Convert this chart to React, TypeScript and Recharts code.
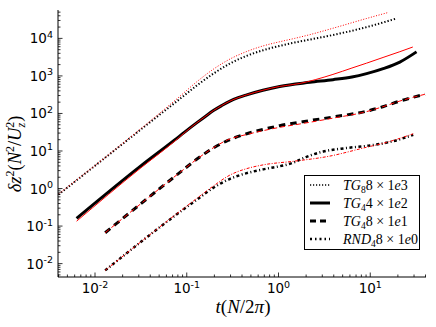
import React from "react";
import { LineChart, Line, XAxis, YAxis, Legend, Label } from "recharts";

const X_DOMAIN: [number, number] = [0.00395, 40.5];
const Y_DOMAIN: [number, number] = [0.0044, 57000];

// (t, value) pairs
const tg8Black: [number, number][] = [
  [0.004, 0.69], [0.0195, 14.7], [0.04, 59], [0.0843, 245], [0.128, 550], [0.195, 1150],
  [0.296, 2140], [0.45, 3430], [0.681, 4840], [1.03, 6310], [1.5, 7760], [2.2, 9330],
  [3.92, 12300], [9.12, 19950], [19.3, 33900],
];
const tg8Red: [number, number][] = [
  [0.004, 0.71], [0.0195, 15.1], [0.04, 63], [0.0843, 288], [0.128, 692], [0.195, 1510],
  [0.296, 2820], [0.45, 4470], [0.681, 6310], [1.03, 8130], [1.5, 10000], [2.2, 12590],
  [3.92, 18620], [9.12, 33900], [15.7, 49000],
];
const tg4Black: [number, number][] = [
  [0.0063, 0.16], [0.0316, 4.0], [0.0745, 20], [0.0955, 32.4], [0.128, 56], [0.158, 82],
  [0.195, 119], [0.24, 162], [0.296, 214], [0.363, 263], [0.45, 313], [0.676, 415],
  [1.03, 525], [2.2, 676], [3.92, 794], [6.31, 933], [9.12, 1150], [14.1, 1585],
  [21, 2340], [31.9, 4370],
];
const tg4Red: [number, number][] = [
  [0.0063, 0.135], [0.0316, 3.55], [0.0745, 18.6], [0.0955, 31.3], [0.128, 56], [0.158, 82],
  [0.195, 119], [0.24, 162], [0.296, 214], [0.363, 263], [0.45, 313], [0.676, 415],
  [1.03, 525], [1.26, 562], [1.71, 631], [2.51, 794], [3.92, 1096], [6.31, 1622],
  [9.12, 2188], [14.1, 3162], [21, 4416], [29.1, 5890],
];
const tg48Black: [number, number][] = [
  [0.0129, 0.0665], [0.0916, 3.16], [0.128, 6.0], [0.195, 12.0], [0.281, 19.1], [0.45, 28.8],
  [0.676, 37.6], [1.03, 47.3], [2.2, 64.6], [3.92, 80.4], [9.12, 115], [13.7, 151],
  [21, 214], [39.4, 324],
];
const tg48Red: [number, number][] = [
  [0.0129, 0.0665], [0.0916, 3.16], [0.128, 6.0], [0.195, 12.2], [0.281, 20], [0.45, 27.5],
  [0.676, 34.7], [1.03, 42.7], [1.71, 52.5], [3.92, 75], [9.12, 112], [13.7, 151],
  [21, 214], [39.4, 324],
];
const rndBlack: [number, number][] = [
  [0.0129, 0.0066], [0.0916, 0.276], [0.128, 0.5], [0.195, 1.05], [0.296, 1.82], [0.45, 2.57],
  [0.681, 3.24], [1.445, 4.9], [2.02, 7.0], [3.07, 9.66], [5.52, 12.0], [9.9, 14.0],
  [16.4, 17.4], [29.4, 26.9],
];
const rndRed: [number, number][] = [
  [0.0129, 0.0066], [0.0916, 0.29], [0.128, 0.54], [0.195, 1.17], [0.296, 2.29], [0.45, 3.39],
  [0.681, 4.27], [1.5, 5.37], [3.55, 7.24], [8.3, 11.9], [16.4, 18.0], [29.4, 28.8],
];

const legendNames = ["TG", "TG", "TG", "RND"];
const legendSubs = ["8", "4", "4", "4"];
const legendFactors = ["8", "4", "8", "8"];
const legendExps = ["3", "2", "1", "0"];
const legendDash = ["1.2 1.8", undefined, "6 4", "2 3 1.5 3"];
const legendWidth = [1.3, 3, 3, 2.5];

const rows = (pairs: [number, number][]) => pairs.map(([t, v]) => ({ t, v }));

function logTicks([min, max]: [number, number]) {
  const out: number[] = [];
  for (let e = Math.floor(Math.log10(min)); e <= Math.ceil(Math.log10(max)); e++) {
    for (let m = 1; m < 10; m++) {
      const v = m * 10 ** e;
      if (v >= min && v <= max) out.push(v);
    }
  }
  return out;
}
const xTicks = logTicks(X_DOMAIN);
const yTicks = logTicks(Y_DOMAIN);

const isMajor = (v: number) => Math.abs(Math.log10(v) - Math.round(Math.log10(v))) < 1e-6;
const expOf = (v: number) => String(Math.round(Math.log10(v)));

const TICK_FONT = "'DejaVu Sans', sans-serif";
const MATH_FONT = "'Liberation Serif', serif";

function XTick(props: any) {
  const { x, y, payload, side } = props;
  const major = isMajor(payload.value);
  const len = major ? 4.5 : 2.5;
  const dir = side === "bottom" ? -1 : 1;
  return (
    <g>
      <line x1={x} x2={x} y1={y} y2={y + dir * len} stroke="#000" strokeWidth={0.8} />
      {side === "bottom" && major && (
        <text x={x} y={y + 16} textAnchor="middle" fontFamily={TICK_FONT} fontSize={13.5} fill="#000">
          10<tspan dy={-5.5} fontSize={9.5}>{expOf(payload.value)}</tspan>
        </text>
      )}
    </g>
  );
}

function YTick(props: any) {
  const { x, y, payload, side } = props;
  const major = isMajor(payload.value);
  const len = major ? 4.5 : 2.5;
  const dir = side === "left" ? 1 : -1;
  return (
    <g>
      <line x1={x} x2={x + dir * len} y1={y} y2={y} stroke="#000" strokeWidth={0.8} />
      {side === "left" && major && (
        <text x={x - 5} y={y + 5} textAnchor="end" fontFamily={TICK_FONT} fontSize={13.5} fill="#000">
          10<tspan dy={-5.5} fontSize={9.5}>{expOf(payload.value)}</tspan>
        </text>
      )}
    </g>
  );
}

function XLabel() {
  return (
    <text x={243} y={313} textAnchor="middle" fontFamily={MATH_FONT} fontSize={19} fill="#000">
      <tspan fontStyle="italic">t</tspan>(<tspan fontStyle="italic">N</tspan>/2<tspan fontStyle="italic">π</tspan>)
    </text>
  );
}

function YLabel() {
  return (
    <text
      x={21}
      y={154}
      transform="rotate(-90 21 154)"
      textAnchor="middle"
      fontFamily={MATH_FONT}
      fontSize={18.5}
      fill="#000"
    >
      <tspan fontStyle="italic">δz</tspan>
      <tspan dy={-7} fontSize={12}>2</tspan>
      <tspan dy={7}>(</tspan>
      <tspan fontStyle="italic">N</tspan>
      <tspan dy={-7} fontSize={12}>2</tspan>
      <tspan dy={7}>/</tspan>
      <tspan fontStyle="italic">U</tspan>
      <tspan dy={4} fontSize={12} fontStyle="italic">z</tspan>
      <tspan dx={-5} dy={-11} fontSize={12}>2</tspan>
      <tspan dy={7}>)</tspan>
    </text>
  );
}

function LegendBox() {
  return (
    <svg width={116} height={75} style={{ display: "block" }}>
      <rect x={0.5} y={0.5} width={115} height={74} fill="#fff" stroke="#000" strokeWidth={1} />
      {legendNames.map((name, i) => {
        const cy = 10 + i * 18;
        return (
          <g key={i}>
            <line
              x1={6}
              x2={26}
              y1={cy}
              y2={cy}
              stroke="#000"
              strokeWidth={legendWidth[i]}
              strokeDasharray={legendDash[i]}
            />
            <text x={39} y={cy + 5} fontFamily={MATH_FONT} fontSize={14} fill="#000">
              <tspan fontStyle="italic">{name}</tspan>
              <tspan dy={3} fontSize={9.5}>{legendSubs[i]}</tspan>
              <tspan dy={-3}>{legendFactors[i]} × 1</tspan>
              <tspan fontStyle="italic">e</tspan>
              <tspan>{legendExps[i]}</tspan>
            </text>
          </g>
        );
      })}
    </svg>
  );
}

const common = { xAxisId: "b", yAxisId: "l", dataKey: "v", type: "monotone" as const, dot: false, isAnimationActive: false };

export default function App() {
  return (
    <div style={{ position: "absolute", left: 0, top: 0, width: 436, height: 327, background: "#fff" }}>
      <LineChart width={436} height={327} margin={{ top: 10, right: 10, bottom: 0, left: 0 }}>
        <XAxis
          xAxisId="b"
          type="number"
          dataKey="t"
          scale="log"
          domain={X_DOMAIN}
          allowDataOverflow
          ticks={xTicks}
          interval={0}
          height={50}
          tickSize={0}
          tickMargin={0}
          tickLine={false}
          axisLine={{ stroke: "#000", strokeWidth: 1 }}
          tick={(p: any) => <XTick {...p} side="bottom" />}
        >
          <Label content={() => <XLabel />} />
        </XAxis>
        <XAxis
          xAxisId="t"
          orientation="top"
          type="number"
          dataKey="t"
          scale="log"
          domain={X_DOMAIN}
          allowDataOverflow
          ticks={xTicks}
          interval={0}
          height={0}
          tickSize={0}
          tickMargin={0}
          tickLine={false}
          axisLine={{ stroke: "#000", strokeWidth: 1 }}
          tick={(p: any) => <XTick {...p} side="top" />}
        />
        <YAxis
          yAxisId="l"
          type="number"
          scale="log"
          domain={Y_DOMAIN}
          allowDataOverflow
          ticks={yTicks}
          interval={0}
          width={58}
          tickSize={0}
          tickMargin={0}
          tickLine={false}
          axisLine={{ stroke: "#000", strokeWidth: 1 }}
          tick={(p: any) => <YTick {...p} side="left" />}
        >
          <Label content={() => <YLabel />} />
        </YAxis>
        <YAxis
          yAxisId="r"
          orientation="right"
          type="number"
          scale="log"
          domain={Y_DOMAIN}
          allowDataOverflow
          ticks={yTicks}
          interval={0}
          width={0}
          tickSize={0}
          tickMargin={0}
          tickLine={false}
          axisLine={{ stroke: "#000", strokeWidth: 1 }}
          tick={(p: any) => <YTick {...p} side="right" />}
        />
        <Line {...common} data={rows(tg8Black)} stroke="#000" strokeWidth={2} strokeDasharray="1.3 2" />
        <Line {...common} data={rows(tg4Black)} stroke="#000" strokeWidth={3} />
        <Line {...common} data={rows(tg48Black)} stroke="#000" strokeWidth={3} strokeDasharray="6.5 5" />
        <Line {...common} data={rows(rndBlack)} stroke="#000" strokeWidth={2.5} strokeDasharray="3 2.5 1 2.5" />
        <Line {...common} data={rows(tg8Red)} stroke="#ff0000" strokeWidth={1} strokeDasharray="1 1.65" />
        <Line {...common} data={rows(tg4Red)} stroke="#ff0000" strokeWidth={1} />
        <Line {...common} data={rows(tg48Red)} stroke="#ff0000" strokeWidth={1} strokeDasharray="5 3" />
        <Line {...common} data={rows(rndRed)} stroke="#ff0000" strokeWidth={1} strokeDasharray="3 1.5 1 1.5" />
        <Legend
          layout="horizontal"
          verticalAlign="middle"
          align="center"
          content={() => <LegendBox />}
          wrapperStyle={{ position: "absolute", left: 304, top: 175, width: 116, height: 75 }}
        />
      </LineChart>
    </div>
  );
}
